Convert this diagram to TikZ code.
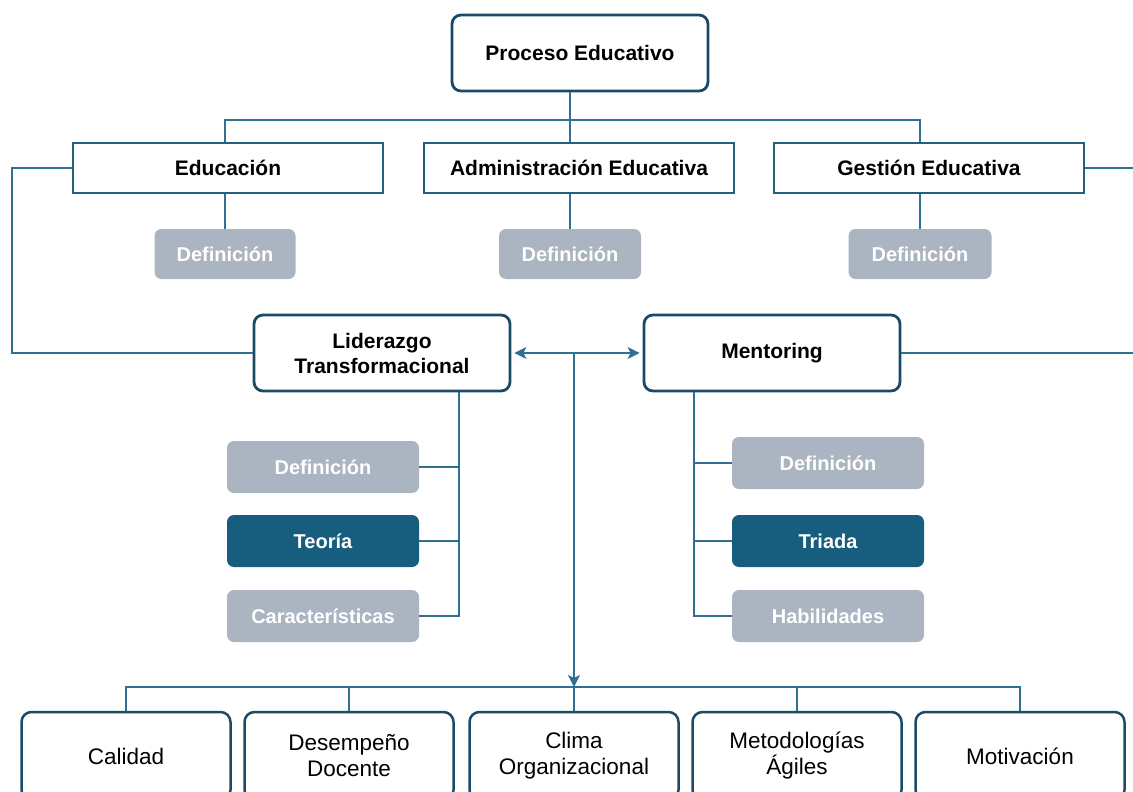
\documentclass[tikz,border=0pt]{standalone}
\usepackage{fontspec}
\setmainfont{Liberation Sans}
\usepackage{tikz}
\usetikzlibrary{arrows.meta}
\definecolor{navy}{HTML}{1B4A66}
\definecolor{linecol}{HTML}{2F7092}
\definecolor{boxcol}{HTML}{245F7E}
\definecolor{greyfill}{HTML}{AAB5C1}
\definecolor{darkfill}{HTML}{175E7E}

\begin{document}
\begin{tikzpicture}[x=1pt,y=-1pt,>={Stealth[length=12pt,width=12pt,inset=3pt]}]
    \tikzstyle{conn}=[draw=linecol,line width=1.8pt];
    \tikzstyle{main}=[draw=navy,line width=2.8pt,rounded corners=9pt,fill=white,align=center,inner sep=0pt,minimum width=256pt,minimum height=76pt,font=\fontsize{21}{25}\selectfont\bfseries];
    \tikzstyle{topic}=[draw=boxcol,line width=1.8pt,fill=white,inner sep=0pt,minimum width=310pt,minimum height=50pt,font=\fontsize{21}{25}\selectfont\bfseries];
    \tikzstyle{defbox}=[fill=greyfill,text=white,rounded corners=7pt,inner sep=0pt,minimum width=192pt,minimum height=52pt,font=\fontsize{20}{24}\selectfont\bfseries];
    \tikzstyle{keybox}=[defbox,fill=darkfill];
    \tikzstyle{leaf}=[draw=navy,line width=2.5pt,rounded corners=10pt,fill=white,align=center,inner sep=0pt,minimum width=209pt,minimum height=88pt,font=\fontsize{22.5}{26}\selectfont];
    \useasboundingbox (0,0) rectangle (1133,792);

    \node[main] at (580,53) (proc) {Proceso Educativo};
    \node[topic] at (228,168) (edu) {Educación};
    \node[topic] at (579,168) (adm) {Administración Educativa};
    \node[topic] at (929,168) (ges) {Gestión Educativa};
    \node[defbox,minimum width=141pt,minimum height=50pt] at (225,254) (edef) {Definición};
    \node[defbox,minimum width=142pt,minimum height=50pt] at (570,254) (adef) {Definición};
    \node[defbox,minimum width=143pt,minimum height=50pt] at (920,254) (gdef) {Definición};

    \node[main] at (382,353) (lider) {Liderazgo\\Transformacional};
    \node[main] at (772,353) (ment) {Mentoring};

    \node[defbox] at (323,467) (ldef) {Definición};
    \node[keybox] at (323,541) (lteo) {Teoría};
    \node[defbox] at (323,616) (lcar) {Características};
    \node[defbox] at (828,463) (mdef) {Definición};
    \node[keybox] at (828,541) (mtri) {Triada};
    \node[defbox] at (828,616) (mhab) {Habilidades};

    \node[leaf] at (126,756) (cal) {Calidad};
    \node[leaf] at (349,756) (des) {Desempeño\\Docente};
    \node[leaf] at (574,756) (cli) {Clima\\Organizacional};
    \node[leaf] at (797,756) (met) {Metodologías\\Ágiles};
    \node[leaf] at (1020,756) (mot) {Motivación};

    \coordinate (tb) at (570,120);
    \coordinate (lx) at (12,0);
    \coordinate (rx) at (1133,0);
    \coordinate (lt) at (459,0);
    \coordinate (mt) at (694,0);
    \coordinate (mid) at (574,352);
    \coordinate (bus) at (574,687);

    \draw[conn] (proc.south -| tb) to (adm.north -| tb);
    \draw[conn] (edu.north -| edef) |- (tb) -| (ges.north -| gdef);
    \draw[conn] (edu.south -| edef) to (edef.north);
    \draw[conn] (adm.south -| adef) to (adef.north);
    \draw[conn] (ges.south -| gdef) to (gdef.north);
    \draw[conn] (edu.west) -- (edu.west -| lx) |- (lider.west);
    \draw[conn] (ges.east) to (ges.east -| rx);
    \draw[conn] (ment.east) to (ment.east -| rx);

    \draw[conn,<->,shorten <=3pt,shorten >=3pt] (lider.east) to (ment.west);
    \draw[conn,->] (mid) to (bus);

    \draw[conn] (lider.south -| lt) -- (lcar.east -| lt) -- (lcar.east);
    \draw[conn] (ldef.east) to (ldef.east -| lt);
    \draw[conn] (lteo.east) to (lteo.east -| lt);
    \draw[conn] (ment.south -| mt) |- (mhab.west);
    \draw[conn] (mdef.west) to (mdef.west -| mt);
    \draw[conn] (mtri.west) to (mtri.west -| mt);

    \draw[conn] (cal.north) |- (bus) -| (mot.north);
    \draw[conn] (des.north) to (des.north |- bus);
    \draw[conn] (cli.north) to (bus);
    \draw[conn] (met.north) to (met.north |- bus);
\end{tikzpicture}
\end{document}
